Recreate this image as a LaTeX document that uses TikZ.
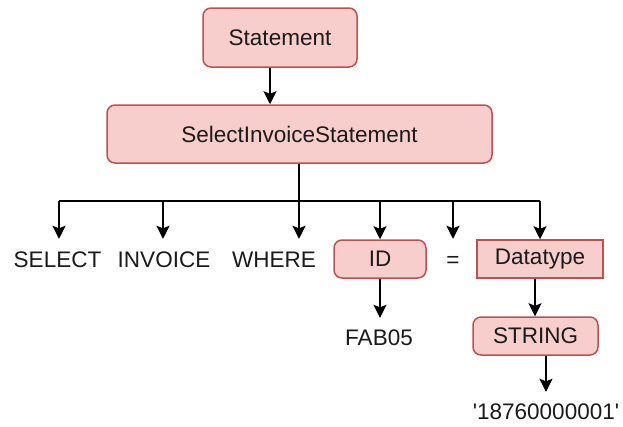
\documentclass[tikz,border=0pt]{standalone}
\usepackage{fontspec}
\setmainfont{Liberation Sans}
\newfontfamily\rawfont{Liberation Sans}[Ligatures=ResetAll]
\usetikzlibrary{arrows.meta}
\definecolor{boxfill}{HTML}{F8CECC}
\definecolor{boxline}{HTML}{B85450}
\definecolor{txt}{HTML}{1A1A1A}
\tikzset{
  box/.style={draw=boxline, fill=boxfill, line width=1.5pt, rounded corners=8pt, inner sep=0pt, text=txt, font=\fontsize{22.5}{27}\selectfont},
  sqbox/.style={box, rounded corners=0pt},
  plain/.style={inner sep=0pt, text=txt, text height=16pt, text depth=0pt, font=\fontsize{22.5}{27}\selectfont},
  ln/.style={line width=1.5pt, black},
  arr/.style={ln, -{Stealth[length=13pt, width=13pt, inset=2.5pt]}}
}
\begin{document}
\begin{tikzpicture}[x=1pt, y=-1pt]
\useasboundingbox (0,0) rectangle (623,426);
\node[box, minimum width=154pt, minimum height=59pt] (stmt) at (280,37.5) {Statement};
\node[box, minimum width=385pt, minimum height=58pt] (sis) at (299.5,134) {SelectInvoiceStatement};
\node[plain] (select) at (57.5,259) {SELECT};
\node[plain] (invoice) at (164,259) {INVOICE};
\node[plain] (where) at (274,259) {WHERE};
\node[box, minimum width=92pt, minimum height=38pt] (id) at (380,259) {ID};
\node[plain] (eq) at (453,259) {=};
\node[sqbox, minimum width=126pt, minimum height=38pt] (dt) at (540,259) {Datatype};
\node[plain] (fab) at (379,337) {FAB05};
\node[box, minimum width=125pt, minimum height=38pt] (str) at (535.5,336) {STRING};
\node[plain] (val) at (546,411) {{\rawfont '18760000001'}};

\coordinate (bus) at (299,201);
\coordinate (busL) at (59,201);
\coordinate (busI) at (163,201);
\coordinate (busE) at (453,201);
\coordinate (busR) at (540,201);
\coordinate (busID) at (380,201);

\draw[arr] (stmt.south -| 270,0) -- (sis.north -| 270,0);
\draw[ln] (sis.south -| bus) -- (bus);
\draw[ln] (busL) -- (busR);
\draw[arr, shorten >=12pt] (busL) -- (busL |- select.north);
\draw[arr, shorten >=12pt] (busI) -- (busI |- invoice.north);
\draw[arr, shorten >=12pt] (bus) -- (bus |- where.north);
\draw[arr, shorten >=12pt] (busE) -- (busE |- eq.north);
\draw[arr] (busID) -- (id.north);
\draw[arr] (busR) -- (dt.north);
\draw[arr, shorten >=11pt] (id.south) -- (id.south |- fab.north);
\draw[arr] ([xshift=-5pt]dt.south) -- ([xshift=-5pt]dt.south |- str.north);
\draw[arr, shorten >=11pt] ([xshift=10.5pt]str.south) -- ([xshift=10.5pt]str.south |- val.north);
\end{tikzpicture}
\end{document}
